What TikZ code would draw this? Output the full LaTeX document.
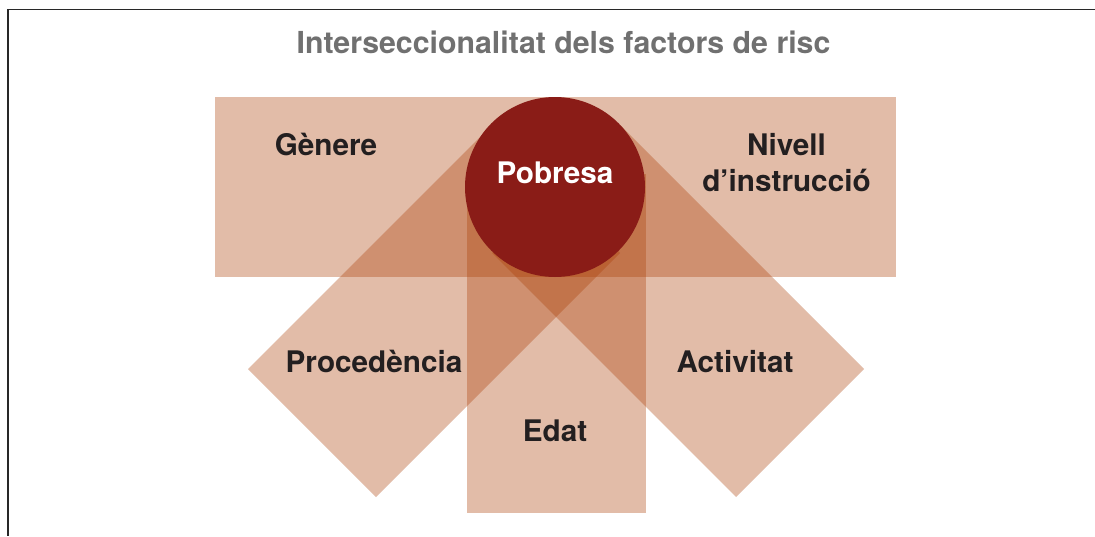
\documentclass[tikz,border=0pt]{standalone}
\usepackage{fontspec}
\setmainfont{TeX Gyre Heros}
\definecolor{bandcol}{RGB}{172,64,8}
\definecolor{circcol}{RGB}{138,28,23}
\definecolor{titlecol}{RGB}{112,112,112}
\definecolor{labelcol}{RGB}{35,31,32}
\definecolor{framecol}{RGB}{40,40,40}
\tikzset{
  band/.style={fill=bandcol, fill opacity=0.35, draw=none},
  lbl/.style={text=labelcol, font=\bfseries\fontsize{29.7}{36}\selectfont, inner sep=0pt, anchor=base},
  ttl/.style={text=titlecol, font=\bfseries\fontsize{30.3}{36}\selectfont, inner sep=0pt, anchor=base},
}
\begin{document}
\begin{tikzpicture}[x=1pt,y=-1pt]
\useasboundingbox (0,0) rectangle (1095,536);
\fill[white] (0,0) rectangle (1095,536);
\draw[line width=1.2pt, framecol] (1095,9.5) -- (8,9.5) -- (8,536);
% bands
\fill[band] (215,97) rectangle (896,277);
\fill[band] (467,174) rectangle (646,513);
\fill[band] (248,369) -- (376,497) -- (620,253) -- (492,125) -- cycle;
\fill[band] (864,369) -- (736,497) -- (492,253) -- (620,125) -- cycle;
% circle
\fill[circcol] (555,187) circle (90);
% texts
\node[ttl] (title) at (563.5,53) {Interseccionalitat dels factors de risc};
\node[lbl] (genere) at (326,155) {Gènere};
\node[lbl, align=center] (nivell) at (786.5,191) {Nivell\\d’instrucció};
\node[lbl, text=white] (pobresa) at (555,183) {Pobresa};
\node[lbl] (procedencia) at (374,372) {Procedència};
\node[lbl] (activitat) at (735,372) {Activitat};
\node[lbl] (edat) at (555,441) {Edat};
\end{tikzpicture}
\end{document}
